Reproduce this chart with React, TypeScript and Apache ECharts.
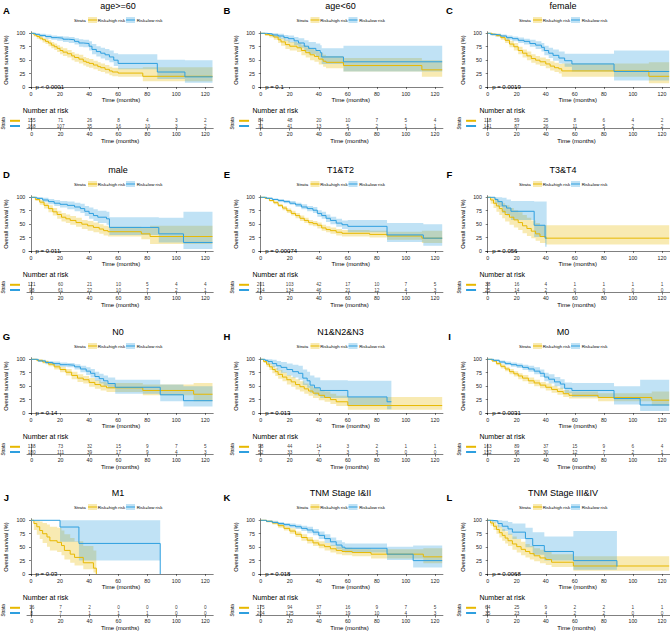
import React, { useEffect, useRef } from "react";
import * as echarts from "echarts";

// ---------- data ----------
// rows: [time (months), survival %, lower CI %, upper CI %]
const A_high = [[0,100,100,100],[2,97,94,99],[4,94,90,97],[6,91,87,95],[8,88,83,92],[10,85,80,90],[12,82,76,87],[14,78,72,84],[16,75,69,81],[18,72,65,78],[20,68,61,75],[22,65,58,72],[25,62,55,69],[28,58,50,65],[30,55,47,62],[33,52,44,60],[36,48,40,56],[38,46,38,54],[40,44,36,52],[43,41,33,49],[46,38,30,46],[48,36,28,44],[51,33,25,41],[54,30,22,38],[56,28,20,36],[60,26,19,35],[77,20,11,37],[125,20,11,37]];
const A_low = [[0,100,100,100],[3,98,96,100],[6,96,93,99],[10,94,90,98],[14,92,88,96],[18,91,86,95],[22,89,84,94],[26,88,82,93],[30,85,79,91],[33,82,75,89],[36,81,74,88],[40,76,68,85],[42,70,61,80],[45,66,57,76],[48,63,53,73],[51,60,50,71],[54,56,46,68],[57,50,39,63],[60,44,33,61],[87,28,15,51],[106,19,8,50],[125,19,8,50]];
const B_high = [[0,100,100,100],[3,98,95,100],[6,96,92,99],[9,93,88,97],[12,88,82,94],[14,84,77,91],[17,79,71,87],[20,76,68,84],[25,73,65,82],[28,68,59,78],[31,64,55,74],[34,60,50,71],[37,57,47,68],[40,52,42,64],[43,48,38,60],[45,46,35,58],[57,40,29,54],[111,32,19,50],[125,32,19,50]];
const B_low = [[0,100,100,100],[4,99,97,100],[8,97,93,100],[12,95,90,99],[16,92,86,97],[19,90,83,96],[23,86,78,93],[26,82,73,91],[30,76,66,87],[33,72,61,84],[38,68,56,81],[41,64,52,78],[42,56,43,72],[57,47,29,77],[125,47,29,77]];
const C_high = [[0,100,100,100],[3,98,96,100],[6,96,93,99],[9,92,88,96],[12,87,82,92],[15,80,74,86],[18,75,68,82],[21,68,61,75],[24,63,55,70],[27,58,50,66],[30,53,45,61],[33,50,42,58],[36,47,39,55],[40,43,35,52],[43,39,31,48],[46,36,28,45],[49,34,25,43],[51,30,19,44],[111,20,7,46],[125,20,7,46]];
const C_low = [[0,100,100,100],[2,98,96,100],[5,97,94,99],[9,95,92,98],[13,92,88,96],[17,90,85,94],[21,87,82,92],[25,85,79,90],[29,81,75,88],[33,78,71,85],[37,74,66,82],[39,68,59,77],[42,63,54,73],[45,59,49,70],[49,54,44,66],[53,49,38,62],[58,43,29,62],[87,29,12,68],[125,29,12,68]];
const D_high = [[0,100,100,100],[3,96,93,99],[6,91,86,95],[9,85,79,90],[12,79,72,85],[15,73,66,80],[18,68,60,75],[21,63,55,71],[24,60,52,68],[27,57,49,65],[31,53,45,62],[35,50,41,58],[39,47,38,56],[43,44,35,53],[47,41,32,50],[50,38,29,47],[53,36,27,45],[76,32,22,43],[82,27,13,47],[125,27,13,47]];
const D_low = [[0,100,100,100],[4,98,96,100],[8,95,91,99],[12,92,87,97],[16,89,84,95],[20,87,81,93],[25,85,78,92],[30,82,74,90],[34,79,71,88],[37,74,65,84],[40,70,60,81],[43,66,56,78],[46,63,52,75],[52,60,49,73],[54,44,30,63],[88,32,16,62],[105,16,4,73],[125,16,4,73]];
const E_high = [[0,100,100,100],[3,98,97,99],[6,94,92,96],[9,90,87,93],[12,85,82,88],[15,80,76,84],[18,75,71,79],[21,70,66,75],[24,66,61,71],[27,61,56,66],[30,57,52,62],[33,53,48,58],[36,51,46,56],[39,48,42,53],[42,43,38,49],[45,40,35,46],[48,38,32,44],[52,35,29,41],[56,33,27,39],[75,31,25,38],[87,28,21,36],[111,24,15,38],[125,24,15,38]];
const E_low = [[0,100,100,100],[4,98,97,100],[8,96,94,98],[12,94,91,97],[16,92,89,95],[20,89,86,93],[24,86,82,90],[28,82,78,87],[32,79,74,84],[36,76,71,82],[39,70,64,76],[42,66,60,73],[45,61,54,68],[48,57,50,64],[52,52,45,60],[56,49,41,57],[60,46,35,58],[87,30,17,52],[112,24,10,50],[125,24,10,50]];
const F_high = [[0,100,100,100],[2,95,88,100],[4,89,80,99],[6,84,73,96],[8,79,67,92],[10,74,61,89],[12,68,55,85],[15,63,49,80],[18,58,44,76],[21,53,39,72],[24,47,33,67],[27,42,28,62],[30,37,24,57],[33,32,19,52],[36,27,15,48],[40,24,12,48],[125,24,12,48]];
const F_low = [[0,100,100,100],[5,96,88,100],[7,92,82,100],[10,84,71,99],[13,80,66,96],[16,74,58,93],[32,48,26,92],[39.5,24,8,92],[40.6,24,0,0]];
const G_high = [[0,100,100,100],[4,98,96,100],[8,95,92,98],[12,91,87,95],[16,86,81,90],[20,81,76,86],[24,76,70,82],[28,70,63,77],[32,65,58,72],[36,62,55,69],[40,57,49,65],[44,53,45,61],[48,50,42,58],[52,47,39,56],[77,42,33,53],[112,35,22,56],[125,35,22,56]];
const G_low = [[0,100,100,100],[5,97,95,99],[10,94,91,97],[15,92,88,96],[20,90,86,94],[25,89,85,93],[30,86,81,91],[34,82,76,88],[38,78,71,85],[41,74,66,82],[44,68,60,77],[47,64,55,73],[50,60,51,70],[53,55,46,66],[58,48,36,62],[89,34,22,53],[105,23,12,50],[125,23,12,50]];
const H_high = [[0,100,100,100],[2,96,93,99],[4,91,86,96],[6,86,80,92],[8,81,74,88],[10,77,69,84],[12,72,64,80],[15,67,59,76],[18,62,53,71],[21,58,49,67],[24,53,44,63],[27,49,40,59],[30,45,36,55],[33,41,32,51],[36,37,28,47],[40,33,24,43],[44,29,21,40],[48,25,17,36],[52,21,13,32],[60,14,6,30],[125,14,6,30]];
const H_low = [[0,100,100,100],[3,98,94,100],[5,96,91,100],[8,92,85,99],[11,88,79,97],[14,85,75,95],[18,81,70,92],[22,77,66,90],[26,74,62,88],[29,65,52,81],[32,60,47,77],[34,52,38,70],[37,47,33,66],[41,42,28,61],[60,30,15,60],[87,21,7,60],[90,21,0,0]];
const I_high = [[0,100,100,100],[3,97,95,99],[6,92,89,95],[9,87,83,91],[12,82,78,86],[15,77,72,82],[18,73,68,78],[21,69,63,74],[24,65,59,71],[28,60,54,66],[32,56,50,62],[36,52,46,58],[40,48,42,55],[44,44,38,51],[48,40,34,47],[52,36,30,43],[56,33,27,40],[76,29,22,37],[113,24,14,40],[125,24,14,40]];
const I_low = [[0,100,100,100],[4,98,96,100],[8,95,92,98],[12,92,89,96],[16,90,86,94],[20,88,84,92],[24,85,80,90],[28,82,77,88],[32,78,72,85],[36,74,67,81],[39,67,59,75],[42,63,55,72],[46,58,50,67],[50,54,45,63],[53,46,37,57],[58,42,30,56],[87,27,16,50],[105,15,4,62],[125,15,4,62]];
const J_high = [[0,100,100,100],[2,94,82,100],[4,88,73,100],[6,81,65,98],[8,75,58,95],[11,69,51,92],[13,62,44,88],[18,59,41,86],[21,53,35,81],[23,44,27,74],[27,37,21,67],[30,31,16,61],[36,21,9,52],[43,11,3,44],[45,0,0,0]];
const J_low = [[0,100,100,100],[20,87.5,60,100],[33,57,25,100],[89,0,0,0]];
const K_high = [[0,100,100,100],[4,98,96,100],[8,95,92,98],[12,90,86,94],[16,85,81,89],[20,80,75,85],[24,74,69,79],[28,68,62,74],[32,63,57,69],[36,58,52,64],[40,54,48,61],[44,51,44,58],[48,47,40,54],[52,44,37,51],[56,42,35,49],[63,40,33,48],[76,37,29,46],[112,32,20,48],[125,32,20,48]];
const K_low = [[0,100,100,100],[4,98,97,100],[8,96,94,99],[12,94,91,97],[16,92,89,95],[20,90,86,94],[24,88,84,92],[28,85,80,90],[32,82,76,88],[36,78,72,84],[40,72,65,79],[44,66,58,74],[48,60,52,68],[52,54,46,63],[56,50,42,59],[58,48,40,57],[87,37,26,51],[105,25,12,53],[125,25,12,53]];
const L_high = [[0,100,100,100],[2,95,90,100],[4,89,82,97],[6,83,75,92],[8,77,68,88],[10,72,62,84],[12,67,57,79],[14,62,52,75],[17,56,45,70],[20,51,40,65],[23,46,35,60],[26,42,31,56],[29,38,27,52],[32,34,24,48],[36,30,20,45],[40,27,17,42],[44,22,13,37],[59,15,6,33],[125,15,6,33]];
const L_low = [[0,100,100,100],[3,99,96,100],[7,94,87,100],[10,89,80,99],[14,84,73,97],[17,78,65,94],[26,66,50,86],[31,53,36,78],[39,42,25,70],[59,25,8,80],[89,14,0,0]];

// number at risk
const RISK_TIMES = [0, 20, 40, 60, 80, 100, 120];
const A_riskHigh = [155, 71, 26, 8, 4, 3, 2];
const A_riskLow = [168, 107, 35, 16, 10, 3, 2];
const B_riskHigh = [84, 48, 20, 10, 7, 5, 4];
const B_riskLow = [71, 41, 13, 5, 2, 1, 1];
const C_riskHigh = [118, 59, 25, 8, 6, 4, 2];
const C_riskLow = [141, 87, 26, 11, 5, 2, 2];
const D_riskHigh = [121, 60, 21, 10, 5, 4, 4];
const D_riskLow = [98, 61, 22, 10, 7, 2, 1];
const E_riskHigh = [201, 103, 42, 17, 10, 7, 5];
const E_riskLow = [214, 134, 46, 21, 12, 4, 3];
const F_riskHigh = [38, 16, 4, 1, 1, 1, 1];
const F_riskLow = [25, 14, 2, 0, 0, 0, 0];
const G_riskHigh = [138, 73, 32, 15, 9, 7, 5];
const G_riskLow = [180, 111, 39, 17, 9, 4, 3];
const H_riskHigh = [98, 44, 14, 3, 2, 1, 1];
const H_riskLow = [52, 33, 7, 3, 3, 0, 0];
const I_riskHigh = [163, 89, 37, 15, 9, 6, 4];
const I_riskLow = [152, 98, 30, 12, 7, 2, 1];
const J_riskHigh = [16, 7, 2, 0, 0, 0, 0];
const J_riskLow = [8, 7, 1, 1, 1, 0, 0];
const K_riskHigh = [175, 94, 37, 16, 9, 7, 5];
const K_riskLow = [204, 125, 44, 19, 10, 4, 3];
const L_riskHigh = [64, 25, 9, 2, 2, 1, 1];
const L_riskLow = [35, 23, 4, 2, 2, 0, 0];

const LETTERS = ["A", "B", "C", "D", "E", "F", "G", "H", "I", "J", "K", "L"];
const TITLES = ["age>=60", "age<60", "female", "male", "T1&T2", "T3&T4", "N0", "N1&N2&N3", "M0", "M1", "TNM Stage I&II", "TNM Stage III&IV"];
const PVALUES = ["p < 0.0001", "p = 0.1", "p = 0.0019", "p = 0.011", "p = 0.00074", "p = 0.056", "p = 0.14", "p = 0.013", "p = 0.0031", "p = 0.03", "p = 0.018", "p = 0.0068"];
const X_TICKS = [0, 20, 40, 60, 80, 100, 120];
const Y_TICKS = [0, 25, 50, 75, 100];
const STRATA = ["Risk=low risk", "Risk=high risk"];

const HIGH_CURVES = [A_high, B_high, C_high, D_high, E_high, F_high, G_high, H_high, I_high, J_high, K_high, L_high];
const LOW_CURVES = [A_low, B_low, C_low, D_low, E_low, F_low, G_low, H_low, I_low, J_low, K_low, L_low];
const HIGH_RISK = [A_riskHigh, B_riskHigh, C_riskHigh, D_riskHigh, E_riskHigh, F_riskHigh, G_riskHigh, H_riskHigh, I_riskHigh, J_riskHigh, K_riskHigh, L_riskHigh];
const LOW_RISK = [A_riskLow, B_riskLow, C_riskLow, D_riskLow, E_riskLow, F_riskLow, G_riskLow, H_riskLow, I_riskLow, J_riskLow, K_riskLow, L_riskLow];

// ---------- style / layout ----------
const YELLOW = "#E7B800";
const BLUE = "#2E9FDF";
const YELLOW_BAND = "rgba(231,184,0,0.3)";
const BLUE_BAND = "rgba(46,159,223,0.3)";
const FONT = "Liberation Sans, Arial, Helvetica, sans-serif";
const COL_ZERO = [31, 260.7, 487.7];
const COL_CENTER = [118, 340.5, 563];
const LETTER_X = [6.5, 227, 449.5];
const ROW_Y = [0, 164, 326, 487];
const PX = 1.452;

function bandSeries(rows: number[][], color: string, idx: number) {
  return {
    type: "custom",
    xAxisIndex: idx,
    yAxisIndex: idx,
    silent: true,
    z: 1,
    data: [[0, 0]],
    renderItem: (params: any, api: any) => {
      const up: number[][] = [];
      const dn: number[][] = [];
      for (let i = 0; i < rows.length - 1; i++) {
        const t0 = rows[i][0];
        const t1 = rows[i + 1][0];
        const lo = rows[i][2];
        const hi = rows[i][3];
        up.push(api.coord([t0, hi]), api.coord([t1, hi]));
        dn.push(api.coord([t0, lo]), api.coord([t1, lo]));
      }
      return {
        type: "polygon",
        shape: { points: up.concat(dn.reverse()) },
        style: { fill: color, stroke: null },
      };
    },
  };
}

function lineSeries(rows: number[][], color: string, idx: number) {
  return {
    type: "line",
    xAxisIndex: idx,
    yAxisIndex: idx,
    step: "end",
    symbol: "none",
    silent: true,
    z: 3,
    data: rows.map((r) => [r[0], r[1]]),
    lineStyle: { color, width: 1 },
    itemStyle: { color },
  };
}

function riskSeries(vals: number[], catIndex: number, idx: number) {
  return {
    type: "scatter",
    xAxisIndex: idx,
    yAxisIndex: idx,
    silent: true,
    symbolSize: 0.1,
    itemStyle: { color: "transparent" },
    data: RISK_TIMES.map((t, k) => [t, catIndex, vals[k]]),
    label: {
      show: true,
      position: "inside",
      formatter: (p: any) => String(p.value[2]),
      fontSize: 4.7,
      fontFamily: FONT,
      color: "#000",
    },
  };
}

const axisLineStyle = { color: "#000", width: 0.5 };

function buildOption() {
  const grid: any[] = [];
  const xAxis: any[] = [];
  const yAxis: any[] = [];
  const series: any[] = [];
  const graphic: any[] = [];

  for (let i = 0; i < 12; i++) {
    const c = i % 3;
    const r = ROW_Y[Math.floor(i / 3)];
    const z = COL_ZERO[c];
    const km = 2 * i;
    const tb = 2 * i + 1;

    grid.push({ left: z - 1.5 * PX, top: r + 31.7, width: 127 * PX, height: 56.7 });
    grid.push({ left: z - 3.2 * PX, top: r + 118.2, width: 128.7 * PX, height: 10.4 });

    xAxis.push({
      type: "value",
      gridIndex: km,
      min: -1.5,
      max: 125.5,
      axisLine: { show: true, lineStyle: axisLineStyle },
      axisTick: { show: true, length: 2, customValues: X_TICKS, lineStyle: axisLineStyle },
      axisLabel: { customValues: X_TICKS, fontSize: 5.3, margin: 3, color: "#222", fontFamily: FONT },
      splitLine: { show: false },
      name: "Time (months)",
      nameLocation: "middle",
      nameGap: 8.5,
      nameTextStyle: { fontSize: 6, color: "#000", fontFamily: FONT },
    });
    yAxis.push({
      type: "value",
      gridIndex: km,
      min: -2.5,
      max: 103,
      axisLine: { show: true, lineStyle: axisLineStyle },
      axisTick: { show: true, length: 2, customValues: Y_TICKS, lineStyle: axisLineStyle },
      axisLabel: { customValues: Y_TICKS, fontSize: 5.3, margin: 3.5, color: "#222", fontFamily: FONT },
      splitLine: { show: false },
      name: "Overall survival (%)",
      nameLocation: "middle",
      nameRotate: 90,
      nameGap: 20,
      nameTextStyle: { fontSize: 5.7, color: "#000", fontFamily: FONT },
    });

    xAxis.push({
      type: "value",
      gridIndex: tb,
      min: -3.2,
      max: 125.5,
      axisLine: { show: true, lineStyle: axisLineStyle },
      axisTick: { show: true, length: 2, customValues: X_TICKS, lineStyle: axisLineStyle },
      axisLabel: { customValues: X_TICKS, fontSize: 5.2, margin: 3, color: "#222", fontFamily: FONT },
      splitLine: { show: false },
      name: "Time (months)",
      nameLocation: "middle",
      nameGap: 8.5,
      nameTextStyle: { fontSize: 6, color: "#000", fontFamily: FONT },
    });
    yAxis.push({
      type: "category",
      gridIndex: tb,
      data: STRATA,
      axisLine: { show: true, lineStyle: axisLineStyle },
      axisTick: { show: false },
      axisLabel: {
        interval: 0,
        hideOverlap: false,
        margin: 7,
        formatter: (v: string) => (v === "Risk=high risk" ? "{h|}" : "{l|}"),
        rich: {
          h: { backgroundColor: YELLOW, width: 10, height: 2 },
          l: { backgroundColor: BLUE, width: 10, height: 2 },
        },
      },
      splitLine: { show: false },
      name: "Strata",
      nameLocation: "middle",
      nameRotate: 90,
      nameGap: 21,
      nameTextStyle: { fontSize: 4.6, color: "#000", fontFamily: FONT },
    });

    series.push(bandSeries(HIGH_CURVES[i], YELLOW_BAND, km));
    series.push(bandSeries(LOW_CURVES[i], BLUE_BAND, km));
    series.push(lineSeries(HIGH_CURVES[i], YELLOW, km));
    series.push(lineSeries(LOW_CURVES[i], BLUE, km));
    series.push(riskSeries(HIGH_RISK[i], 1, tb));
    series.push(riskSeries(LOW_RISK[i], 0, tb));

    // letter
    graphic.push({
      type: "text",
      x: LETTER_X[c],
      y: r + 10.5,
      style: { text: LETTERS[i], fontSize: 9.5, fontWeight: "bold", fontFamily: FONT, fill: "#000", align: "center", verticalAlign: "middle" },
    });
    // title
    graphic.push({
      type: "text",
      x: COL_CENTER[c],
      y: r + 5.5,
      style: { text: TITLES[i], fontSize: 9, fontFamily: FONT, fill: "#000", align: "center", verticalAlign: "middle" },
    });
    // legend
    const lx = COL_CENTER[c] - 44;
    const ly = r + 20;
    graphic.push({
      type: "group",
      x: lx,
      y: ly,
      children: [
        { type: "text", x: 0, y: 0, style: { text: "Strata", fontSize: 4.4, fontFamily: FONT, fill: "#000", verticalAlign: "middle" } },
        { type: "rect", shape: { x: 14, y: -3, width: 9, height: 6 }, style: { fill: YELLOW_BAND } },
        { type: "line", shape: { x1: 14, y1: 0, x2: 23, y2: 0 }, style: { stroke: YELLOW, lineWidth: 1 } },
        { type: "text", x: 23.7, y: 0, style: { text: "Risk=high risk", fontSize: 4.4, fontFamily: FONT, fill: "#000", verticalAlign: "middle" } },
        { type: "rect", shape: { x: 52, y: -3, width: 9, height: 6 }, style: { fill: BLUE_BAND } },
        { type: "line", shape: { x1: 52, y1: 0, x2: 61, y2: 0 }, style: { stroke: BLUE, lineWidth: 1 } },
        { type: "text", x: 62.7, y: 0, style: { text: "Risk=low risk", fontSize: 4.4, fontFamily: FONT, fill: "#000", verticalAlign: "middle" } },
      ],
    });
    // p-value
    graphic.push({
      type: "text",
      x: z + 4.5,
      y: r + 87,
      z: 10,
      style: { text: PVALUES[i], fontSize: 6, fontFamily: FONT, fill: "#000", verticalAlign: "middle" },
    });
    // Number at risk
    graphic.push({
      type: "text",
      x: z - 8.3,
      y: r + 110,
      style: { text: "Number at risk", fontSize: 7, fontFamily: FONT, fill: "#000", verticalAlign: "middle" },
    });
  }

  return {
    animation: false,
    backgroundColor: "#fff",
    textStyle: { fontFamily: FONT },
    grid,
    xAxis,
    yAxis,
    series,
    graphic,
  };
}

export default function App() {
  const ref = useRef<HTMLDivElement>(null);
  useEffect(() => {
    if (!ref.current) return;
    const chart = echarts.init(ref.current, null, { renderer: "svg" });
    chart.setOption(buildOption() as any);
    return () => chart.dispose();
  }, []);
  return (
    <div
      ref={ref}
      style={{ position: "fixed", left: 0, top: 0, width: 670, height: 632, background: "#fff" }}
    />
  );
}
